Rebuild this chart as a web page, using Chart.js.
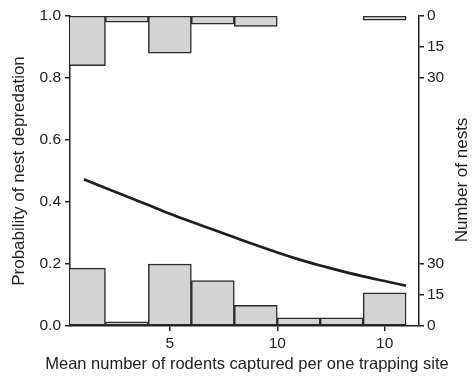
<!DOCTYPE html>
<html>
<head>
<meta charset="utf-8">
<script src="https://cdn.jsdelivr.net/npm/chart.js@4/dist/chart.umd.min.js"></script>
<style>
  html, body { margin: 0; padding: 0; background: #fff; }
  #wrap { width: 474px; height: 379px; }
</style>
</head>
<body>
<div id="wrap"><canvas id="grafico"></canvas></div>
<script>
// bins of 2 rodents, centre of each bin
const binCentres = [1, 3, 5, 7, 9, 11, 13, 15];
// nests not depredated (hang from the top) and depredated (stand on the bottom)
const nestsTop = [24, 3, 18, 4, 5, 0, 0, 2];
const nestsBottom = [28, 2, 30, 22, 10, 4, 4, 16];

// fitted probability curve
const curveX = [1, 2, 3, 4, 5, 6, 7, 8, 9, 10, 11, 12, 13, 14, 15, 16];
const curveP = [0.473, 0.445, 0.418, 0.39, 0.362, 0.336, 0.311, 0.286, 0.261, 0.237, 0.215, 0.195, 0.177, 0.160, 0.145, 0.130];

const xTickValues = [5, 10, 15];
const xTickLabels = ['5', '10', '10'];
const probTicks = [0, 0.2, 0.4, 0.6, 0.8, 1.0];
const nestTicks = [0, 15, 30];

// full height of the plot in nests (30 nests = 0.2 of probability)
const nestMax = 150;

const fonte = '"Liberation Sans", Arial, sans-serif';
const corTexto = '#222';

Chart.defaults.font.family = fonte;
Chart.defaults.color = corTexto;

const dadosTopo = binCentres.map((x, i) => ({ x: x, y: [nestMax - nestsTop[i], nestMax] }));
const dadosBase = binCentres.map((x, i) => ({ x: x, y: [0, nestsBottom[i]] }));
const dadosCurva = curveX.map((x, i) => ({ x: x, y: curveP[i] }));

// x title is wider than the plot, right title reads bottom to top
const titulos = {
  id: 'titulos',
  afterDraw(chart) {
    const { ctx } = chart;
    ctx.save();
    ctx.fillStyle = corTexto;
    ctx.textAlign = 'center';

    ctx.font = '16.5px ' + fonte;
    ctx.textBaseline = 'alphabetic';
    ctx.fillText('Mean number of rodents captured per one trapping site', 247, 369);

    ctx.translate(462, 180);
    ctx.rotate(-Math.PI / 2);
    ctx.font = '17px ' + fonte;
    ctx.textBaseline = 'middle';
    ctx.fillText('Number of nests', 0, 0);
    ctx.restore();
  }
};

const estiloBarra = {
  type: 'bar',
  yAxisID: 'yR',
  backgroundColor: '#d3d3d3',
  borderColor: '#2a2a2a',
  borderWidth: 1.5,
  borderSkipped: false,
  barPercentage: 1,
  categoryPercentage: 1,
  grouped: false,
  order: 2
};

const myChart = new Chart(document.getElementById('grafico'), {
  data: {
    datasets: [
      Object.assign({}, estiloBarra, { label: 'topo', data: dadosTopo }),
      Object.assign({}, estiloBarra, { label: 'base', data: dadosBase }),
      {
        type: 'line',
        label: 'curva',
        yAxisID: 'y',
        data: dadosCurva,
        borderColor: '#1e1e1e',
        borderWidth: 2.7,
        pointRadius: 0,
        cubicInterpolationMode: 'monotone',
        fill: false,
        order: 1
      }
    ]
  },
  options: {
    responsive: true,
    maintainAspectRatio: false,
    animation: false,
    layout: { padding: { top: 16, left: 0, right: 0, bottom: 0 } },
    plugins: {
      legend: { display: false },
      tooltip: { enabled: false }
    },
    scales: {
      x: {
        type: 'linear',
        offset: false,
        min: 0.35,
        max: 16.6,
        afterBuildTicks: (scale) => { scale.ticks = xTickValues.map(v => ({ value: v })); },
        afterFit: (scale) => { scale.height = 53; },
        ticks: {
          callback: (v, i) => xTickLabels[i],
          font: { size: 15.5 },
          padding: 3,
          maxRotation: 0
        },
        grid: { drawOnChartArea: false, drawTicks: true, tickLength: 5, color: '#222', lineWidth: 1.5, offset: false },
        border: { display: true, color: '#222', width: 1.5 }
      },
      y: {
        position: 'left',
        min: 0,
        max: 1,
        afterBuildTicks: (scale) => { scale.ticks = probTicks.map(v => ({ value: v })); },
        afterFit: (scale) => { scale.width = 70; },
        ticks: {
          callback: (v) => v.toFixed(1),
          font: { size: 15.5 },
          padding: 4
        },
        grid: { drawOnChartArea: false, drawTicks: true, tickLength: 5, color: '#222', lineWidth: 1.5 },
        border: { display: true, color: '#222', width: 1.5 },
        title: {
          display: true,
          text: 'Probability of nest depredation',
          font: { size: 17 },
          padding: { top: 9, bottom: 0 }
        }
      },
      yR: {
        position: 'right',
        min: 0,
        max: nestMax,
        afterBuildTicks: (scale) => {
          const base = nestTicks.map(v => ({ value: v }));
          const topo = nestTicks.slice().reverse().map(v => ({ value: nestMax - v }));
          scale.ticks = base.concat(topo);
        },
        afterFit: (scale) => { scale.width = 55; },
        ticks: {
          callback: (v) => (v <= nestMax / 2 ? v : nestMax - v),
          font: { size: 15.5 },
          padding: 3
        },
        grid: { drawOnChartArea: false, drawTicks: true, tickLength: 5, color: '#222', lineWidth: 1.5 },
        border: { display: true, color: '#222', width: 1.5 }
      }
    }
  },
  plugins: [titulos]
});
</script>
</body>
</html>
